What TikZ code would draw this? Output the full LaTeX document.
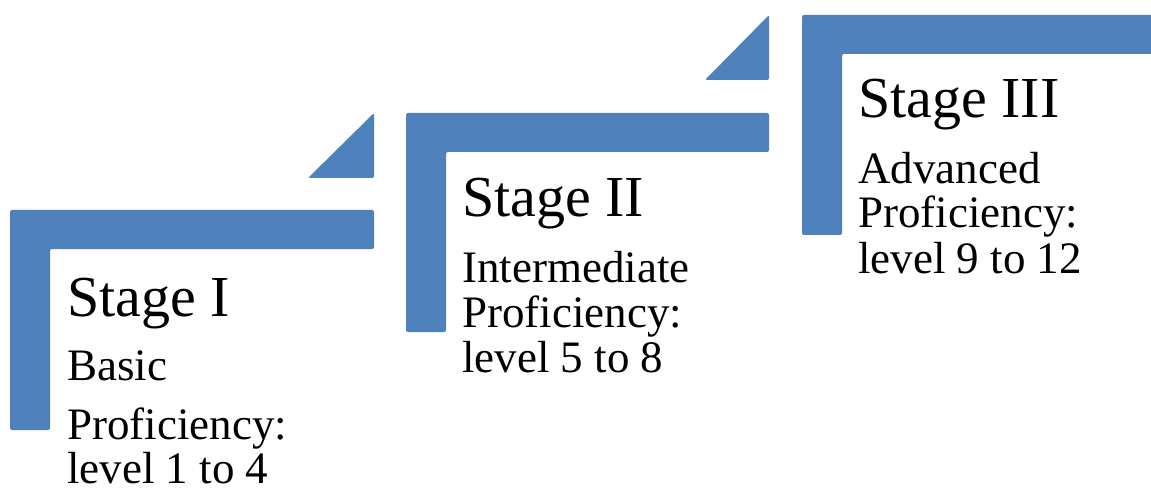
\documentclass[tikz,border=0pt]{standalone}
\usepackage{fontspec}
\setmainfont{Liberation Serif}
\usetikzlibrary{positioning}
\definecolor{stepblue}{RGB}{79,129,189}

\begin{document}
\begin{tikzpicture}[
    x=1pt, y=-1pt,
    stepbar/.style={fill=stepblue, rounded corners=2pt},
    stagetitle/.style={anchor=base west, inner sep=0pt, font=\fontsize{58}{60}\selectfont},
    stagetext/.style={anchor=base west, inner sep=0pt, font=\fontsize{45}{46}\selectfont}
]
    \useasboundingbox (0,0) rectangle (1151,489);
    \clip (0,0) rectangle (1151,489);

    % Stage I step
    \fill[stepbar] (10,210) -- (374,210) -- (374,249) -- (50,249) -- (50,430) -- (10,430) -- cycle;
    \fill[stepbar] (308,178) -- (374,113) -- (374,178) -- cycle;

    % Stage II step
    \fill[stepbar] (406,113) -- (769,113) -- (769,152) -- (446,152) -- (446,332) -- (406,332) -- cycle;
    \fill[stepbar] (705,80) -- (769,15) -- (769,80) -- cycle;

    % Stage III step
    \fill[stepbar] (802,15) -- (1160,15) -- (1160,54) -- (842,54) -- (842,235) -- (802,235) -- cycle;

    % Stage I text
    \node[stagetitle] (title1) at (67,316) {Stage I};
    \node[stagetext] (basic) at (67,380) {Basic};
    \node[stagetext] (prof1) at (67,439) {Proficiency:};
    \node[stagetext] (level1) at (67,483) {level 1 to 4};

    % Stage II text
    \node[stagetitle] (title2) at (462,217) {Stage II};
    \node[stagetext] (inter) at (462,282) {Intermediate};
    \node[stagetext] (prof2) at (462,327) {Proficiency:};
    \node[stagetext] (level2) at (462,372) {level 5 to 8};

    % Stage III text
    \node[stagetitle] (title3) at (858,118) {Stage III};
    \node[stagetext] (adv) at (858,184) {Advanced};
    \node[stagetext] (prof3) at (858,228) {Proficiency:};
    \node[stagetext] (level3) at (858,273) {level 9 to 12};
\end{tikzpicture}
\end{document}
